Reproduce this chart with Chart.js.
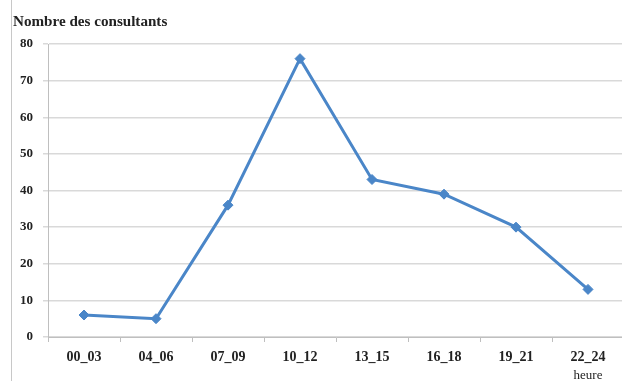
<!DOCTYPE html>
<html>
<head>
<meta charset="utf-8">
<script src="https://cdn.jsdelivr.net/npm/chart.js@4"></script>
<style>
  html, body { margin: 0; padding: 0; background: #fff; overflow: hidden; width: 622px; height: 383px; }
  canvas { display: block; }
</style>
</head>
<body>
<canvas id="chart" width="634" height="383"></canvas>
<script>
// Consultations by time slot
const categories = ['00_03', '04_06', '07_09', '10_12', '13_15', '16_18', '19_21', '22_24'];
const consultants = [6, 5, 36, 76, 43, 39, 30, 13];
const yTicks = [0, 10, 20, 30, 40, 50, 60, 70, 80];

const yTitle = 'Nombre des consultants';
const xTitle = 'heure';

const serifFamily = '"Liberation Serif", "DejaVu Serif", serif';
const textColor = '#222';
const blue = '#4a86c8';

// Frame line on the left edge plus the axis captions
const decorations = {
  id: 'decorations',
  afterDraw(chart) {
    const ctx = chart.ctx;
    const area = chart.chartArea;
    const xScale = chart.scales.x;
    ctx.save();
    ctx.strokeStyle = '#c8c8c8';
    ctx.lineWidth = 1;
    ctx.beginPath();
    ctx.moveTo(11.5, 0);
    ctx.lineTo(11.5, 381);
    ctx.stroke();

    ctx.fillStyle = textColor;
    ctx.textAlign = 'left';
    ctx.textBaseline = 'alphabetic';
    ctx.save();
    ctx.translate(13, 26);
    ctx.scale(1.08, 1);
    ctx.font = 'bold 14px ' + serifFamily;
    ctx.fillText(yTitle, 0, 0);
    ctx.restore();

    ctx.font = '13px ' + serifFamily;
    ctx.textAlign = 'center';
    ctx.textBaseline = 'middle';
    const lastX = xScale.getPixelForValue(categories.length - 1);
    ctx.fillText(xTitle, lastX, area.bottom + 39);
    ctx.restore();
  }
};

new Chart(document.getElementById('chart'), {
  type: 'line',
  data: {
    labels: categories,
    datasets: [{
      data: consultants,
      borderColor: blue,
      backgroundColor: blue,
      borderWidth: 3,
      tension: 0,
      pointStyle: 'rectRot',
      pointRadius: 5,
      pointBorderWidth: 1,
      pointBackgroundColor: blue,
      pointBorderColor: blue
    }]
  },
  options: {
    responsive: false,
    animation: false,
    devicePixelRatio: 1,
    layout: { padding: { left: 0, right: 10, top: 44, bottom: 0 } },
    plugins: { legend: { display: false }, tooltip: { enabled: false } },
    scales: {
      x: {
        offset: true,
        grid: { offset: true, drawOnChartArea: false, drawTicks: true, tickLength: 5, color: '#bfbfbf', lineWidth: 1 },
        border: { display: true, color: '#bfbfbf', width: 1 },
        ticks: { font: { family: serifFamily, size: 14, weight: 'bold' }, color: textColor, padding: 7, maxRotation: 0, autoSkip: false },
        afterFit(scale) { scale.height = 46; }
      },
      y: {
        min: 0,
        max: 80,
        afterBuildTicks(scale) { scale.ticks = yTicks.map(v => ({ value: v })); },
        grid: { color: '#d9d9d9', lineWidth: 1.5, drawTicks: true, tickLength: 5 },
        border: { display: true, color: '#bfbfbf', width: 1 },
        ticks: { font: { family: serifFamily, size: 13, weight: 'bold' }, color: textColor, padding: 10 },
        afterFit(scale) { scale.width = 48; }
      }
    }
  },
  plugins: [decorations]
});
</script>
</body>
</html>
